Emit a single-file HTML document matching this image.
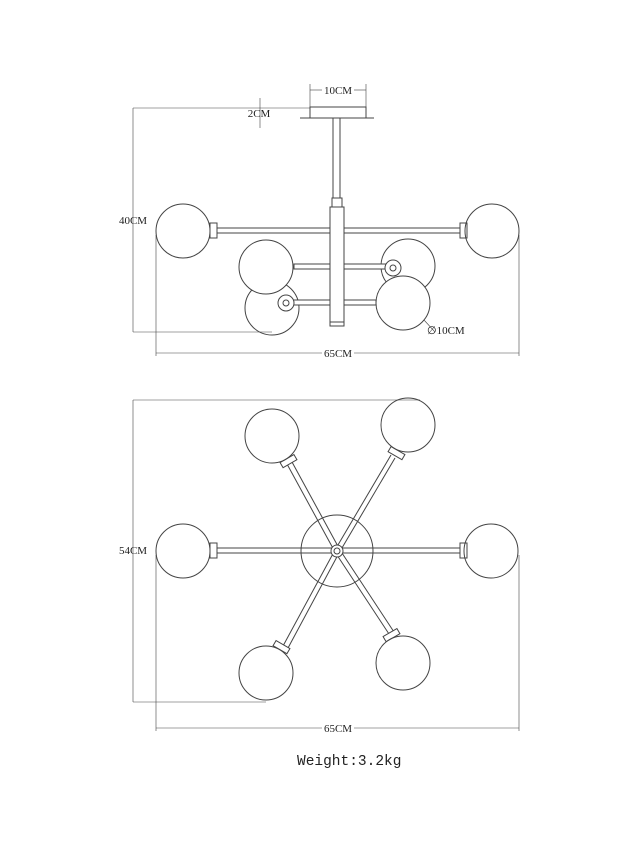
<!DOCTYPE html>
<html><head><meta charset="utf-8"><style>
html,body{margin:0;padding:0;background:#fff;}
svg{display:block;}
text{font-family:"Liberation Serif",serif;fill:#222;}
</style></head><body>
<svg width="640" height="853" viewBox="0 0 640 853" xmlns="http://www.w3.org/2000/svg">
<g fill="none" stroke="#444" stroke-width="1">
<!-- TOP VIEW -->
<!-- 10CM dim -->
<line x1="310" y1="84" x2="310" y2="107" stroke-width="0.6"/>
<line x1="366" y1="84" x2="366" y2="107" stroke-width="0.6"/>
<line x1="310" y1="90" x2="322" y2="90" stroke-width="0.6"/>
<line x1="354" y1="90" x2="366" y2="90" stroke-width="0.6"/>
<!-- 2CM -->
<line x1="260" y1="98" x2="260" y2="128" stroke-width="0.6"/>
<!-- canopy -->
<rect x="310" y="107" width="56" height="11"/>
<line x1="300" y1="118" x2="374" y2="118"/>
<!-- stem -->
<rect x="333" y="118" width="7" height="80"/>
<rect x="332" y="198" width="10" height="9"/>
<rect x="330" y="207" width="14" height="119"/>
<line x1="330" y1="322" x2="344" y2="322"/>
<!-- 40CM -->
<line x1="133" y1="108" x2="133" y2="332" stroke-width="0.6"/>
<line x1="133" y1="108" x2="310" y2="108" stroke-width="0.6"/>
<line x1="133" y1="332" x2="272" y2="332" stroke-width="0.6"/>
<!-- 65CM top -->
<line x1="156" y1="235" x2="156" y2="356" stroke-width="0.6"/>
<line x1="519" y1="235" x2="519" y2="356" stroke-width="0.6"/>
<line x1="156" y1="353" x2="322" y2="353" stroke-width="0.6"/>
<line x1="354" y1="353" x2="519" y2="353" stroke-width="0.6"/>
<!-- main arm -->
<rect x="217" y="228" width="113" height="5"/>
<rect x="344" y="228" width="116" height="5"/>
<circle cx="183" cy="231" r="27"/>
<circle cx="492" cy="231" r="27"/>
<rect x="210" y="223" width="7" height="15"/>
<rect x="460" y="223" width="7" height="15"/>
<!-- back globes -->
<circle cx="408" cy="266" r="27"/>
<circle cx="272" cy="308" r="27"/>
<!-- mid arms -->
<rect x="294" y="264" width="36" height="5" fill="#fff"/>
<rect x="344" y="264" width="45" height="5" fill="#fff"/>
<circle cx="266" cy="267" r="27" fill="#fff"/>
<circle cx="393" cy="268" r="8" fill="#fff"/>
<circle cx="393" cy="268" r="3"/>
<!-- bottom arms -->
<rect x="290" y="300" width="40" height="5" fill="#fff"/>
<rect x="344" y="300" width="32" height="5" fill="#fff"/>
<circle cx="286" cy="303" r="8" fill="#fff"/>
<circle cx="286" cy="303" r="3"/>
<circle cx="403" cy="303" r="27" fill="#fff"/>
<line x1="424" y1="320" x2="435" y2="332" stroke-width="0.6"/>

<!-- BOTTOM VIEW -->
<line x1="133" y1="400" x2="133" y2="702" stroke-width="0.6"/>
<line x1="133" y1="400" x2="420" y2="400" stroke-width="0.6"/>
<line x1="133" y1="702" x2="266" y2="702" stroke-width="0.6"/>
<line x1="156" y1="555" x2="156" y2="731" stroke-width="0.6"/>
<line x1="519" y1="555" x2="519" y2="731" stroke-width="0.6"/>
<line x1="156" y1="728" x2="322" y2="728" stroke-width="0.6"/>
<line x1="354" y1="728" x2="519" y2="728" stroke-width="0.6"/>
<circle cx="337" cy="551" r="36"/>
<!-- horizontal arm -->
<rect x="217" y="548" width="243" height="5"/>
<rect x="210" y="543" width="7" height="15"/>
<rect x="460" y="543" width="7" height="15"/>
<circle cx="183" cy="551" r="27"/>
<circle cx="491" cy="551" r="27"/>
<!-- diagonals -->
<line x1="287" y1="464" x2="335" y2="552"/>
<line x1="292" y1="462" x2="340" y2="550"/>
<line x1="391" y1="455" x2="335" y2="550"/>
<line x1="395" y1="458" x2="339" y2="553"/>
<line x1="283" y1="646" x2="335" y2="550"/>
<line x1="288" y1="648" x2="339" y2="553"/>
<line x1="389" y1="634" x2="335" y2="552"/>
<line x1="394" y1="632" x2="340" y2="550"/>
<circle cx="337" cy="551" r="6" fill="#fff"/>
<circle cx="337" cy="551" r="3"/>
<g transform="rotate(-30 289 462)"><rect x="281" y="458" width="16" height="6" fill="#fff"/></g>
<g transform="rotate(30 396 454)"><rect x="388" y="450" width="16" height="6" fill="#fff"/></g>
<g transform="rotate(30 281 648)"><rect x="273" y="644" width="16" height="6" fill="#fff"/></g>
<g transform="rotate(-30 392 636)"><rect x="384" y="632" width="16" height="6" fill="#fff"/></g>
<circle cx="272" cy="436" r="27"/>
<circle cx="408" cy="425" r="27"/>
<circle cx="266" cy="673" r="27"/>
<circle cx="403" cy="663" r="27"/>
</g>
<g font-size="11">
<text x="338" y="94" text-anchor="middle">10CM</text>
<text x="259" y="117" text-anchor="middle">2CM</text>
<text x="133" y="224" text-anchor="middle">40CM</text>
<text x="338" y="357" text-anchor="middle">65CM</text>
<text x="427" y="334">∅10CM</text>
<text x="133" y="554" text-anchor="middle">54CM</text>
<text x="338" y="732" text-anchor="middle">65CM</text>
</g>
<text x="297" y="765" font-family="Liberation Mono, monospace" font-size="14.5" style="font-family:'Liberation Mono',monospace">Weight:3.2kg</text>
</svg>
</body></html>
